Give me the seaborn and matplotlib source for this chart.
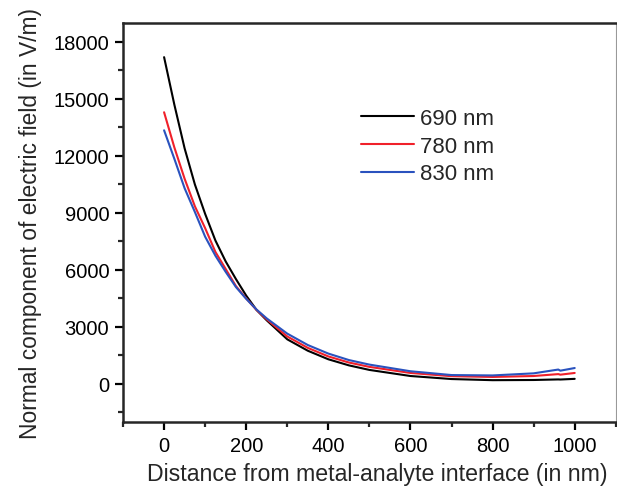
import pandas as pd
import numpy as np
import matplotlib
matplotlib.use("Agg")
import matplotlib.pyplot as plt
import seaborn as sns
from matplotlib.ticker import MultipleLocator

# distance from metal-analyte interface (nm)
distance = [0, 25, 50, 75, 100, 125, 150, 175, 200, 225, 250, 300, 350,
            400, 450, 500, 600, 700, 800, 900, 960, 965, 1000]

# normal component of the electric field (V/m)
e_690 = [17200, 14700, 12400, 10500, 8950, 7550, 6450, 5520, 4650, 3900,
         3350, 2350, 1750, 1300, 980, 740, 420, 260, 200, 210, 240, 235, 270]
e_780 = [14300, 12450, 10800, 9350, 8200, 6950, 6050, 5150, 4500, 3900,
         3400, 2500, 1900, 1450, 1130, 900, 580, 410, 370, 420, 520, 490, 580]
e_830 = [13350, 11850, 10300, 9050, 7750, 6750, 5900, 5100, 4480, 3920,
         3450, 2650, 2050, 1600, 1260, 1020, 670, 470, 450, 560, 760, 700, 840]

labels = ["690 nm", "780 nm", "830 nm"]
colors = ["#000000", "#f0202a", "#2a52be"]

df = pd.concat([
    pd.DataFrame({"distance": distance, "field": vals, "wavelength": lab})
    for vals, lab in zip([e_690, e_780, e_830], labels)
])

sns.set_style("ticks")
plt.rcParams["font.family"] = ["Liberation Sans", "DejaVu Sans"]

fig = plt.figure(figsize=(6.17, 4.89), dpi=100)
ax = fig.add_axes([0.1994, 0.135, 0.7986, 0.816])

sns.lineplot(data=df, x="distance", y="field", hue="wavelength",
             hue_order=labels, palette=colors, linewidth=1.5,
             estimator=None, sort=False, ax=ax)

ax.set_xlim(-100, 1100)
ax.set_ylim(-2000, 19000)
ax.xaxis.set_major_locator(MultipleLocator(200))
ax.xaxis.set_minor_locator(MultipleLocator(100))
ax.yaxis.set_major_locator(MultipleLocator(3000))
ax.yaxis.set_minor_locator(MultipleLocator(1500))
ax.tick_params(which="major", direction="out", length=6, width=1.6,
               labelsize=14.5, colors="black", pad=4)
ax.tick_params(which="minor", direction="out", length=3.5, width=1.6)

for side in ["left", "bottom", "top"]:
    ax.spines[side].set_linewidth(1.8)
ax.spines["right"].set_linewidth(0.8)
ax.spines["right"].set_color("#999999")

ax.set_xlabel("Distance from metal-analyte interface (in nm)", fontsize=16.7)
ax.xaxis.set_label_coords(0.515, -0.1)
ax.set_ylabel("Normal component of electric field (in V/m)", fontsize=16.4,
              labelpad=8)

ax.legend(title=None, frameon=False, loc="upper left",
          bbox_to_anchor=(0.483, 0.787), borderaxespad=0, borderpad=0,
          handlelength=2.4, handletextpad=0.25, labelspacing=0.3,
          fontsize=16)

fig.savefig("out.png", dpi=100)
